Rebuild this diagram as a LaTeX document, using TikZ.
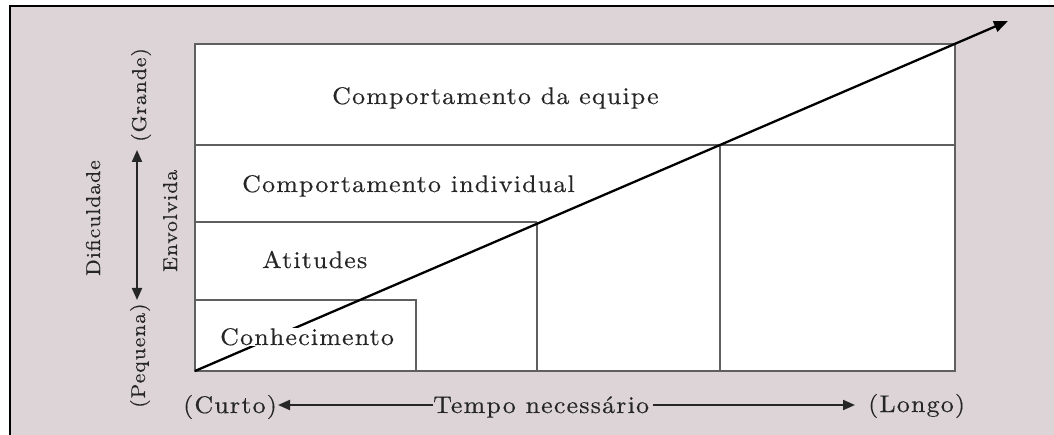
\documentclass[tikz,border=0pt]{standalone}
\usepackage{fontspec}
\usetikzlibrary{arrows.meta}
\newfontfamily\lbfont{lmroman10-regular.otf}[FakeStretch=1.08, LetterSpace=5, FakeBold=0.4]
\definecolor{bgpink}{RGB}{220,212,215}
\definecolor{framegray}{RGB}{95,95,95}
\begin{document}
\begin{tikzpicture}[x=1pt,y=-1pt,
  lbl/.style={inner sep=0pt, anchor=base west, text=black!85, font=\lbfont\fontsize{24}{28}\selectfont},
  rlbl/.style={inner sep=0pt, anchor=base west, rotate=90, text=black!85, font=\lbfont\fontsize{20}{24}\selectfont},
  cell/.style={draw=framegray, line width=1.3pt},
  tipb/.style={-{Triangle[length=12pt,width=10pt]}, line width=2pt, draw=black!85, fill=black!85},
  tipboth/.style={{Triangle[length=12pt,width=10pt]}-{Triangle[length=12pt,width=10pt]}, line width=2pt, draw=black!85, fill=black!85}]
\useasboundingbox (0,0) rectangle (1054,435);
\fill[white] (0,0) rectangle (1054,435);
\fill[bgpink] (10,6) rectangle (1054,435);
\draw[line width=2.5pt] (10,436) -- (10,6) -- (1055,6);

% grid
\filldraw[fill=white, cell] (195,44) rectangle (955,371);
\draw[cell] (195,145) -- (955,145);
\draw[cell] (195,222) -- (537,222);
\draw[cell] (195,300) -- (416,300) -- (416,371);
\draw[cell] (537,222) -- (537,371);
\draw[cell] (720,145) -- (720,371);

% diagonal arrow
\coordinate (o) at (195,371);
\coordinate (e) at (1008,21);
\draw[line width=2.3pt, -{Triangle[length=14pt,width=11pt]}] (o) -- (e);

% cell labels
\node[lbl] (equipe) at (332,104) {Comportamento da equipe};
\node[lbl] (indiv) at (242,192) {Comportamento individual};
\node[lbl] (atit) at (262,268) {Atitudes};
\node[lbl, fill=white] (conh) at (220,345) {Conhecimento};

% left axis
\node[rlbl] (dif) at (100,276) {Dificuldade};
\node[rlbl] (env) at (177,272) {Envolvida};
\node[rlbl] (grande) at (146,142) {(Grande)};
\node[rlbl] (pequena) at (145,408) {(Pequena)};
\coordinate (vt) at (137,150);
\coordinate (vb) at (137,300);
\draw[tipboth] (vb) -- (vt);

% bottom axis
\node[lbl] (curto) at (183,413) {(Curto)};
\node[lbl] (tempo) at (433,413) {Tempo necessário};
\node[lbl] (longo) at (868,412) {(Longo)};
\coordinate (la) at (278,405);
\coordinate (lb) at (433,405);
\coordinate (ra) at (653,405);
\coordinate (rb) at (855,405);
\draw[tipb] (lb) -- (la);
\draw[tipb] (ra) -- (rb);
\end{tikzpicture}
\end{document}
